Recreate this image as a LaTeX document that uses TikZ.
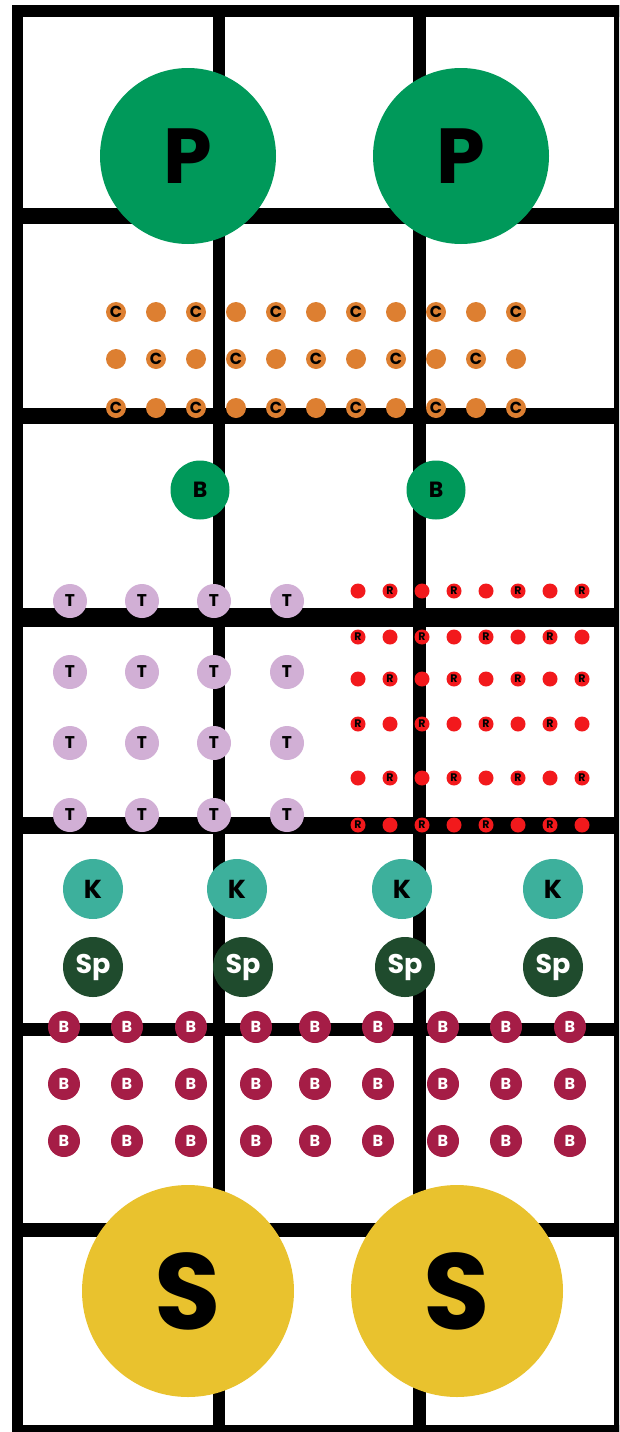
\documentclass[tikz,border=0pt]{standalone}
\usepackage{fontspec}
\newfontfamily\dotfont{Poppins}
\definecolor{pgreen}{HTML}{00995A}
\definecolor{corange}{HTML}{DD7F31}
\definecolor{tlilac}{HTML}{D1AFD5}
\definecolor{rred}{HTML}{F2191C}
\definecolor{kteal}{HTML}{3DB09C}
\definecolor{spgreen}{HTML}{1F4B2D}
\definecolor{bmaroon}{HTML}{A51D46}
\definecolor{syellow}{HTML}{E9C22E}
\newcommand{\fsz}[1]{\dotfont\bfseries\fontsize{#1}{#1}\selectfont}
\tikzset{
  disc/.style={circle, inner sep=0pt, text=black},
  bigP/.style={disc, fill=pgreen, minimum size=176pt, font=\fsz{78}},
  cdot/.style={disc, fill=corange, minimum size=20pt, font=\fsz{16}},
  bgreen/.style={disc, fill=pgreen, minimum size=59pt, font=\fsz{22}},
  tdot/.style={disc, fill=tlilac, minimum size=34pt, font=\fsz{17}},
  rdot/.style={disc, fill=rred, minimum size=15pt, font=\fsz{11}},
  kdot/.style={disc, fill=kteal, minimum size=60pt, font=\fsz{26}},
  spdot/.style={disc, fill=spgreen, minimum size=60pt, text=white, font=\fsz{27}},
  bdot/.style={disc, fill=bmaroon, minimum size=32pt, text=white, font=\fsz{16}},
  bigS/.style={disc, fill=syellow, minimum size=212pt, font=\fsz{108}},
}
\begin{document}
\begin{tikzpicture}[x=1pt,y=-1pt]
\useasboundingbox (0,0) rectangle (619,1432);
\clip (0,0) rectangle (619,1432);
% frame
\fill[black] (12,5) rectangle (640,17);
\fill[black] (12,5) rectangle (23,1450);
\fill[black] (614,5) rectangle (640,1450);
\fill[black] (12,1425) rectangle (640,1450);
% column rules
\fill[black] (213,5) rectangle (225,1432);
\fill[black] (413,5) rectangle (426,1432);
% row rules
\fill[black] (12,208) rectangle (619,224);
\fill[black] (12,408) rectangle (619,424);
\fill[black] (12,608) rectangle (619,627);
\fill[black] (12,817) rectangle (619,834);
\fill[black] (12,1023) rectangle (619,1036);
\fill[black] (12,1223) rectangle (619,1237);

% top pair
\node[bigP] (P1) at (188,156) {P};
\node[bigP] (P2) at (461,156) {P};

% orange lattice
\foreach \r/\y in {1/312,2/359,3/408}
  \foreach \i in {0,...,10} {
    \pgfmathtruncatemacro\xx{116+40*\i}
    \node[cdot] (C-\r-\i) at (\xx,\y) {\ifodd\numexpr\i+\r\relax C\fi};
  }

% green B pair
\node[bgreen] (BG1) at (200,490) {B};
\node[bgreen] (BG2) at (436,490) {B};

% lilac T grid
\foreach \r/\y in {1/601,2/672,3/743,4/815}
  \foreach \i/\xx in {1/70,2/142,3/214,4/287}
    \node[tdot] (T-\r-\i) at (\xx,\y) {T};

% red R grid
\foreach \r/\y in {1/591,2/637,3/679,4/724,5/778,6/825}
  \foreach \i in {0,...,7} {
    \pgfmathtruncatemacro\xx{358+32*\i}
    \node[rdot] (R-\r-\i) at (\xx,\y) {\ifodd\numexpr\i+\r\relax\else R\fi};
  }

% K and Sp
\foreach \i/\xx in {1/93,2/237,3/402,4/553}
  \node[kdot] (K\i) at (\xx,889) {K};
\foreach \i/\xx in {1/93,2/243,3/405,4/553}
  \node[spdot] (Sp\i) at (\xx,967) {Sp};

% maroon B grid
\foreach \r/\y in {1/1027,2/1084,3/1141}
  \foreach \i/\xx in {1/64,2/127,3/191,4/256,5/315,6/378,7/443,8/506,9/570}
    \node[bdot] (B-\r-\i) at (\xx,\y) {B};

% bottom pair
\node[bigS] (S1) at (188,1291) {S};
\node[bigS] (S2) at (457,1291) {S};
\end{tikzpicture}
\end{document}
